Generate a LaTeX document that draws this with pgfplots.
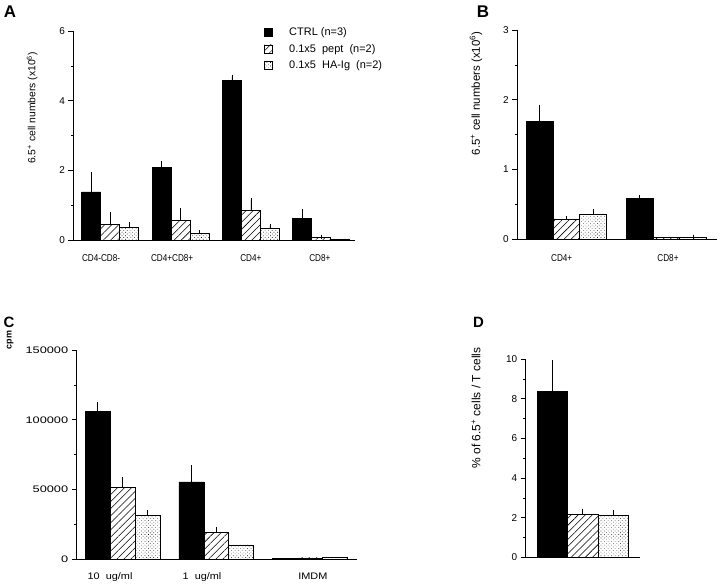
\documentclass[border=0pt]{standalone}
\usepackage{fontspec}
\setmainfont{Liberation Sans}
\usepackage{pgfplots}
\pgfplotsset{compat=1.18}
\usetikzlibrary{patterns.meta}
\pgfplotsset{
  panel/.style={
    scale only axis, anchor=south west,
    axis x line=bottom, axis y line=left,
    axis line style={-, line width=0.6pt},
    tick align=outside,
    xtick style={draw=none},
    ytick style={line width=0.6pt, black},
    major tick length=5bp, minor tick length=2.5bp,
    minor y tick num=1,
    enlargelimits=false, clip=false,
    scaled y ticks=false,
    /pgf/number format/assume math mode=true,
    /pgf/number format/fixed,
    /pgf/number format/1000 sep={},
    yticklabel style={font=\fontsize{10}{12}\selectfont},
    xticklabel style={font=\fontsize{10}{12}\selectfont\addfontfeatures{FakeStretch=0.82}, anchor=center},
  },
  ctrl/.style={ybar, bar shift=0, draw=black, fill=black, line width=0.6pt},
  pept/.style={ybar, bar shift=0, draw=black, line width=0.6pt, pattern={Lines[angle=45,distance=5bp,line width=0.55pt]}, pattern color=black},
  haig/.style={ybar, bar shift=0, draw=black, line width=0.6pt, pattern={Dots[radius=0.42pt,distance=2.5bp,angle=45]}, pattern color=black},
  eb/.style={error bars/y dir=plus, error bars/y explicit,
    error bars/error bar style={line width=0.6pt, black, solid},
    error bars/error mark options={line width=0.6pt, mark size=2bp, black, solid}},
}
\begin{document}
\begin{tikzpicture}
\path[use as bounding box] (0,0) rectangle (720bp,584bp);
\node[font=\bfseries\fontsize{17}{17}\selectfont] at (10bp,572.5bp) {A};
\node[font=\bfseries\fontsize{17}{17}\selectfont] at (483bp,572.5bp) {B};
\node[font=\bfseries\fontsize{15}{15}\selectfont] at (9bp,261.5bp) {C};
\node[font=\bfseries\fontsize{15}{15}\selectfont] at (478.5bp,261.5bp) {D};

% ---------------- A
\begin{axis}[panel,
  at={(73.5bp,344bp)}, width=281.5bp, height=209bp,
  xmin=-0.522, xmax=3.48, ymin=0, ymax=6,
  ytick={0,2,4,6},
  xtick={-0.13,0.88,2.0,2.98},
  xticklabels={CD4-CD8-,CD4+CD8+,CD4+,CD8+},
  xticklabel style={yshift=-13bp},
  ylabel={6.5\textsuperscript{+} cell numbers (x10\textsuperscript{6})},
  ylabel style={at={(axis description cs:-0.147,0.632)}, anchor=center, font=\fontsize{10.4}{12}\selectfont},
  legend style={draw=none, fill=none, at={(0.676,1.026)}, anchor=north west,
    font=\fontsize{11}{13}\selectfont, row sep=3bp, inner sep=0pt},
  legend cell align=left,
]
\addlegendimage{legend image code/.code={\draw[black, fill=black, line width=0.5pt] (0bp,-4bp) rectangle (8bp,4bp); \path[draw=none,fill=none] (0bp,0bp) -- (23bp,0bp);}}
\addlegendentry{CTRL (n=3)}
\addlegendimage{legend image code/.code={\draw[black, line width=0.5pt, pattern={Lines[angle=45,distance=5bp,line width=0.5pt]}] (0bp,-4bp) rectangle (8bp,4bp); \path[draw=none,fill=none] (0bp,0bp) -- (23bp,0bp);}}
\addlegendentry{0.1x5\ \ pept\ \ (n=2)}
\addlegendimage{legend image code/.code={\draw[black, line width=0.5pt, pattern={Dots[radius=0.42pt,distance=2.5bp,angle=45]}] (0bp,-4bp) rectangle (8bp,4bp); \path[draw=none,fill=none] (0bp,0bp) -- (23bp,0bp);}}
\addlegendentry{0.1x5\ \ HA-Ig\ \ (n=2)}
\addplot[ctrl, bar width=0.27, eb, forget plot] table[x=x,y=y,y error=e]{
x y e
-0.27 1.38 0.52
0.73 2.09 0.11
1.73 4.58 0.11
2.73 0.61 0.21
};
\addplot[pept, bar width=0.27, eb, forget plot] table[x=x,y=y,y error=e]{
x y e
0 0.45 0.29
1 0.57 0.29
2 0.84 0.31
3 0.08 0.02
};
\addplot[haig, bar width=0.27, eb, forget plot] table[x=x,y=y,y error=e]{
x y e
0.27 0.37 0.08
1.27 0.19 0.03
2.27 0.33 0.08
};
\addplot[haig, bar width=0.27, forget plot] table[x=x,y=y]{
x y
3.27 0.03
};
\end{axis}

% ---------------- B
\begin{axis}[panel,
  at={(517.3bp,344.7bp)}, width=199.4bp, height=209.3bp,
  xmin=-0.49, xmax=1.504, ymin=0, ymax=3,
  ytick={0,1,2,3},
  xtick={-0.046,1.017},
  xticklabels={CD4+,CD8+},
  xticklabel style={yshift=-14bp},
  ylabel={6.5\textsuperscript{+} cell numbers (x10\textsuperscript{6})},
  ylabel style={at={(axis description cs:-0.207,0.697)}, anchor=center, font=\fontsize{11.5}{13}\selectfont},
]
\addplot[ctrl, bar width=0.267, eb] table[x=x,y=y,y error=e]{
x y e
-0.267 1.69 0.21
0.733 0.59 0.02
};
\addplot[pept, bar width=0.267, eb] table[x=x,y=y,y error=e]{
x y e
0 0.29 0.01
};
\addplot[pept, bar width=0.267] table[x=x,y=y]{
x y
1 0.024
};
\addplot[haig, bar width=0.267, eb] table[x=x,y=y,y error=e]{
x y e
0.267 0.36 0.04
1.267 0.024 0.016
};
\end{axis}

% ---------------- C
\begin{axis}[panel,
  at={(76.7bp,24.7bp)}, width=280bp, height=209.3bp,
  xmin=-0.489, xmax=2.498, ymin=0, ymax=150000,
  ytick={0,50000,100000,150000},
  minor y tick num=1,
  yticklabel style={font=\fontsize{9.5}{11}\selectfont\addfontfeatures{FakeStretch=1.35}},
  xtick={-0.133,0.848,2.03},
  xticklabels={10\ \ ug/ml,1\ \ ug/ml,IMDM},
  xticklabel style={font=\fontsize{9.5}{11}\selectfont\addfontfeatures{FakeStretch=1.15}, yshift=-12.3bp},
  ylabel={cpm},
  ylabel style={at={(axis description cs:-0.238,1.048)}, anchor=center, font=\bfseries\fontsize{9}{11}\selectfont},
]
\addplot[ctrl, bar width=0.266, eb] table[x=x,y=y,y error=e]{
x y e
-0.266 106000 5000
0.734 55400 10500
};
\addplot[ctrl, bar width=0.266] table[x=x,y=y]{
x y
1.734 500
};
\addplot[pept, bar width=0.266, eb] table[x=x,y=y,y error=e]{
x y e
0 51400 5900
1 19400 2100
};
\addplot[pept, bar width=0.266] table[x=x,y=y]{
x y
2 1000
};
\addplot[haig, bar width=0.266, eb] table[x=x,y=y,y error=e]{
x y e
0.266 31500 2200
};
\addplot[haig, bar width=0.266] table[x=x,y=y]{
x y
1.266 10300
2.266 1200
};
\end{axis}

% ---------------- D
\begin{axis}[panel,
  at={(525.7bp,26.7bp)}, width=114.3bp, height=198.3bp,
  xmin=-1.87, xmax=1.88, ymin=0, ymax=10,
  ytick={0,2,4,6,8,10},
  xtick=\empty,
  ylabel={\% of 6.5\textsuperscript{+} cells / T cells},
  ylabel style={at={(axis description cs:-0.435,0.753)}, anchor=center, font=\fontsize{12}{14}\selectfont},
]
\addplot[ctrl, bar width=1, eb] table[x=x,y=y,y error=e]{
x y e
-1 8.35 1.5
};
\addplot[pept, bar width=1, eb] table[x=x,y=y,y error=e]{
x y e
0 2.17 0.18
};
\addplot[haig, bar width=1, eb] table[x=x,y=y,y error=e]{
x y e
1 2.13 0.14
};
\end{axis}
\end{tikzpicture}
\end{document}
